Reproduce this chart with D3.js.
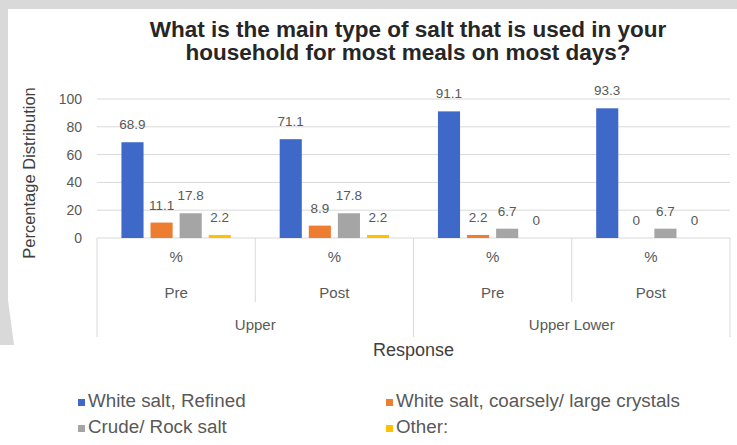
<!DOCTYPE html>
<html>
<head>
<meta charset="utf-8">
<script src="https://cdn.jsdelivr.net/npm/d3@7/dist/d3.min.js"></script>
<style>
  html, body { margin: 0; padding: 0; background: #ffffff; }
  svg { display: block; }
  text { font-family: "Liberation Sans", Arial, sans-serif; }
</style>
</head>
<body>
<svg id="chart" width="737" height="445"></svg>
<script>
// Survey responses: main type of salt used in the household
const regions = ["Upper", "Upper Lower"];
const phases = ["Pre", "Post"];
const unitLabel = "%";
const seriesNames = ["White salt, Refined", "White salt, coarsely/ large crystals", "Crude/ Rock salt", "Other:"];
const seriesColors = ["#3f69c9", "#ed7d31", "#a5a5a5", "#ffc000"];
// values per column: Upper-Pre, Upper-Post, Upper Lower-Pre, Upper Lower-Post
const refined = [68.9, 71.1, 91.1, 93.3];
const coarse = [11.1, 8.9, 2.2, 0];
const rock = [17.8, 17.8, 6.7, 6.7];
const other = [2.2, 2.2, 0, 0];
const yTicks = [0, 20, 40, 60, 80, 100];

const seriesValues = [refined, coarse, rock, other];
const columns = [];
regions.forEach(r => phases.forEach(p => columns.push({ region: r, phase: p, key: r + "|" + p })));

const svg = d3.select("#chart");
const W = 737, H = 445;

// frame behind the chart card
svg.append("rect").attr("width", W).attr("height", H).attr("fill", "#ffffff");
svg.append("path")
  .attr("d", "M0,0 H737 V9 H8 V300 L14,345 H0 Z")
  .attr("fill", "#d9d9d9");

const plot = { left: 97, right: 730, top: 99, bottom: 238 };

const x0 = d3.scaleBand().domain(columns.map(c => c.key)).range([plot.left, plot.right]).padding(0);
const x1 = d3.scaleBand().domain(d3.range(seriesNames.length)).range([0, x0.bandwidth()])
  .paddingInner(0.24).paddingOuter(0.84);
const y = d3.scaleLinear().domain([0, 100]).range([plot.bottom, plot.top]);

const grid = "#d9d9d9";
const labelColor = "#595959";

// gridlines
svg.append("g").selectAll("line").data(yTicks).join("line")
  .attr("x1", plot.left).attr("x2", plot.right)
  .attr("y1", d => y(d)).attr("y2", d => y(d))
  .attr("stroke", grid).attr("stroke-width", 1);

// y axis tick labels
const yAxis = d3.axisLeft(y).tickValues(yTicks).tickSize(0).tickPadding(0);
const yg = svg.append("g").attr("transform", `translate(${plot.left - 15},0)`).call(yAxis);
yg.select(".domain").remove();
yg.selectAll("text").attr("fill", labelColor).attr("font-size", 14)
  .attr("font-family", "Liberation Sans, Arial, sans-serif");

// y axis title
svg.append("text")
  .attr("transform", `translate(35,173) rotate(-90)`)
  .attr("text-anchor", "middle")
  .attr("font-size", 16.5).attr("fill", "#404040")
  .text("Percentage Distribution");

// bars
const barData = [];
columns.forEach((c, ci) => seriesValues.forEach((vals, si) => barData.push({ col: c.key, s: si, v: vals[ci] })));

svg.append("g").selectAll("rect").data(barData).join("rect")
  .attr("x", d => x0(d.col) + x1(d.s))
  .attr("width", x1.bandwidth())
  .attr("y", d => y(d.v))
  .attr("height", d => y(0) - y(d.v))
  .attr("fill", d => seriesColors[d.s]);

// value labels
svg.append("g").selectAll("text").data(barData).join("text")
  .attr("x", d => x0(d.col) + x1(d.s) + x1.bandwidth() / 2)
  .attr("y", d => y(d.v) - 13)
  .attr("text-anchor", "middle")
  .attr("font-size", 13.5).attr("fill", labelColor)
  .text(d => d.v);

// multi-level category axis
const axisG = svg.append("g");
const lowY = 337, midY = 302;
// outer (region) dividers
const regionEdges = [plot.left];
regions.forEach(r => {
  const cols = columns.filter(c => c.region === r);
  regionEdges.push(x0(cols[cols.length - 1].key) + x0.bandwidth());
});
axisG.selectAll("line.outer").data(regionEdges).join("line")
  .attr("class", "outer")
  .attr("x1", d => d).attr("x2", d => d)
  .attr("y1", plot.bottom).attr("y2", lowY)
  .attr("stroke", grid);
// inner (phase) dividers
const innerEdges = [];
regions.forEach(r => {
  const cols = columns.filter(c => c.region === r);
  cols.slice(1).forEach(c => innerEdges.push(x0(c.key)));
});
axisG.selectAll("line.inner").data(innerEdges).join("line")
  .attr("class", "inner")
  .attr("x1", d => d).attr("x2", d => d)
  .attr("y1", plot.bottom).attr("y2", midY)
  .attr("stroke", grid);

const catFont = 15;
axisG.selectAll("text.unit").data(columns).join("text")
  .attr("class", "unit")
  .attr("x", d => x0(d.key) + x0.bandwidth() / 2).attr("y", 262)
  .attr("text-anchor", "middle").attr("font-size", catFont).attr("fill", labelColor)
  .text(unitLabel);
axisG.selectAll("text.phase").data(columns).join("text")
  .attr("class", "phase")
  .attr("x", d => x0(d.key) + x0.bandwidth() / 2).attr("y", 298)
  .attr("text-anchor", "middle").attr("font-size", catFont).attr("fill", labelColor)
  .text(d => d.phase);
axisG.selectAll("text.region").data(regions).join("text")
  .attr("class", "region")
  .attr("x", (r, i) => (regionEdges[i] + regionEdges[i + 1]) / 2).attr("y", 330)
  .attr("text-anchor", "middle").attr("font-size", catFont).attr("fill", labelColor)
  .text(d => d);

// x axis title
svg.append("text")
  .attr("x", (plot.left + plot.right) / 2).attr("y", 356)
  .attr("text-anchor", "middle").attr("font-size", 18).attr("fill", "#404040")
  .text("Response");

// chart title
const title = svg.append("text")
  .attr("text-anchor", "middle").attr("font-size", 22.5).attr("font-weight", "bold")
  .attr("fill", "#262626");
title.append("tspan").attr("x", 408).attr("y", 37).text("What is the main type of salt that is used in your");
title.append("tspan").attr("x", 408).attr("y", 60).text("household for most meals on most days?");

// legend
const legendPos = [[78, 407], [386, 407], [78, 433], [386, 433]];
const leg = svg.append("g").selectAll("g").data(seriesNames).join("g")
  .attr("transform", (d, i) => `translate(${legendPos[i][0]},${legendPos[i][1]})`);
leg.append("rect").attr("x", 0).attr("y", -8).attr("width", 7).attr("height", 7)
  .attr("fill", (d, i) => seriesColors[i]);
leg.append("text").attr("x", 10).attr("y", 0)
  .attr("font-size", 18.8).attr("fill", labelColor)
  .text(d => d);
</script>
</body>
</html>
